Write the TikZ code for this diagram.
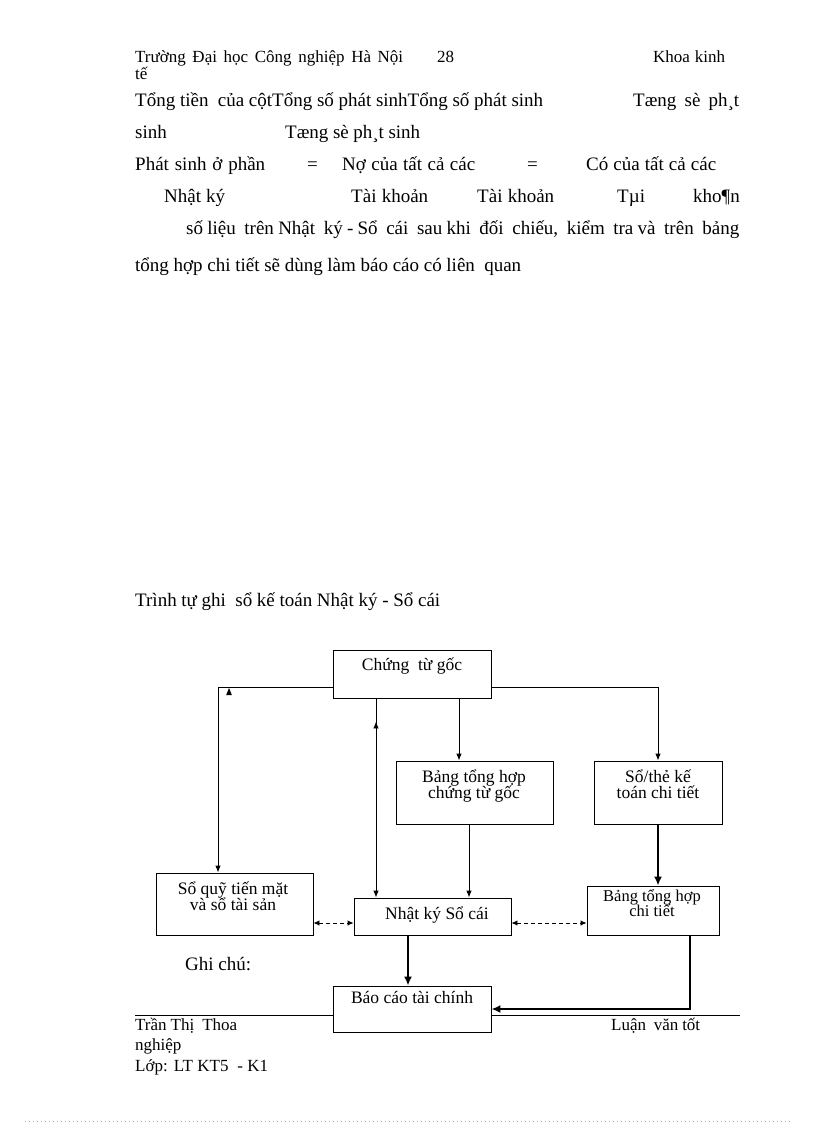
\documentclass[tikz,border=0pt]{standalone}
\usepackage{fontspec}
\setmainfont{Liberation Serif}
\usetikzlibrary{arrows.meta,calc,decorations.markings}
\begin{document}
\begin{tikzpicture}[x=1pt,y=-1pt,
  txt/.style={anchor=base west, inner sep=0pt, font=\fontsize{19}{21}\selectfont},
  hdr/.style={anchor=base west, inner sep=0pt, font=\fontsize{17}{19}\selectfont},
  bxt/.style={anchor=base, inner sep=0pt, font=\fontsize{17.5}{18}\selectfont},
  bxs/.style={anchor=base, inner sep=0pt, font=\fontsize{16.5}{17}\selectfont},
  boxst/.style={draw, line width=0.9pt, fill=white, inner sep=0pt},
  arr/.style={line width=0.9pt, -{Latex[length=7pt,width=5.5pt]}},
  tarr/.style={line width=2.6pt, -{Latex[length=9pt,width=8pt]}},
  darr/.style={line width=0.9pt, dash pattern=on 4pt off 3pt, {Latex[length=6pt,width=5.5pt]}-{Latex[length=6pt,width=5.5pt]}},
  midup/.style={postaction={decorate}, decoration={markings, mark=at position 23pt with {\arrowreversed{Latex[length=7pt,width=5.5pt]}}}}
]
\useasboundingbox[fill=white] (0,0) rectangle (816,1123);

% header
\node[hdr] (h1) at (135,63) {\makebox[268pt][s]{Trường Đại học Công nghiệp Hà Nội}};
\node[hdr] (h2) at (437,63) {28};
\node[hdr] (h3) at (653,63) {\makebox[72pt][s]{Khoa kinh}};
\node[hdr] (h4) at (135,80) {tế};

% body text
\node[txt] (l1a) at (135,107) {\makebox[408pt][s]{Tổng tiền\ \ của cộtTổng số phát sinhTổng số phát sinh}};
\node[txt] (l1b) at (633,107) {\makebox[106pt][s]{Tæng\ \ sè\ \ ph¸t}};
\node[txt] (l2a) at (135,139) {sinh};
\node[txt] (l2b) at (285,139) {\makebox[135pt][s]{Tæng sè ph¸t sinh}};
\node[txt] (l3a) at (135,171) {\makebox[130pt][s]{Phát sinh ở phần}};
\node[txt] (l3b) at (307,171) {=};
\node[txt] (l3c) at (342,171) {\makebox[133pt][s]{Nợ của tất cả các}};
\node[txt] (l3d) at (527,171) {=};
\node[txt] (l3e) at (586,171) {\makebox[130pt][s]{Có của tất cả các}};
\node[txt] (l4a) at (164,203) {\makebox[61pt][s]{Nhật ký}};
\node[txt] (l4b) at (351,203) {\makebox[77pt][s]{Tài khoản}};
\node[txt] (l4c) at (477,203) {\makebox[77pt][s]{Tài khoản}};
\node[txt] (l4d) at (617,203) {Tµi};
\node[txt] (l4e) at (693,203) {kho¶n};
\node[txt] (l5) at (186,235) {\makebox[553pt][s]{số liệu\ \ trên Nhật\ \ ký - Sổ\ \ cái\ \ sau khi\ \ đối\ \ chiếu,\ \ kiểm\ \ tra và\ \ trên\ \ bảng}};
\node[txt] (l6) at (135,271) {\makebox[386pt][s]{tổng hợp chi tiết sẽ dùng làm báo cáo có liên\ \ quan}};

\node[txt] (title) at (135,606) {\makebox[305pt][s]{Trình tự ghi\ \ sổ kế toán Nhật ký - Sổ cái}};
\node[txt] (ghichu) at (185,970) {Ghi chú:};

% footer rule and footer
\draw[line width=0.8pt] (135,1015) -- (740,1015);
\draw[gray!60, line width=0.6pt, dash pattern=on 0.6pt off 3.4pt] (25,1121) -- (792,1121);
\node[hdr] (f1) at (135,1030) {\makebox[102pt][s]{Trần Thị\ \ Thoa}};
\node[hdr] (f2) at (611,1030) {\makebox[89pt][s]{Luận\ \ văn tốt}};
\node[hdr] (f3) at (135,1050) {nghiệp};
\node[hdr] (f4) at (135,1071) {\makebox[133pt][s]{Lớp: LT KT5\ \ - K1}};

% boxes
\node[boxst, minimum width=158pt, minimum height=48pt] (ctg) at (412,674) {};
\node[boxst, minimum width=157pt, minimum height=63pt] (bth) at (474.5,792.5) {};
\node[boxst, minimum width=128pt, minimum height=63pt] (sct) at (658,792.5) {};
\node[boxst, minimum width=157pt, minimum height=62pt] (sq) at (234.5,904) {};
\node[boxst, minimum width=157pt, minimum height=37pt] (nk) at (432.5,916.5) {};
\node[boxst, minimum width=132pt, minimum height=49pt] (btct) at (653,910.5) {};
\node[boxst, minimum width=158pt, minimum height=46pt] (bc) at (412,1009) {};

% box texts
\node[bxt] (ctgT) at (412,670) {Chứng\ \ từ gốc};
\node[bxt] (bthT1) at (474,782) {Bảng tổng hợp};
\node[bxt] (bthT2) at (474,798) {chứng từ gốc};
\node[bxt] (sctT1) at (658,782) {Sổ/thẻ kế};
\node[bxt] (sctT2) at (658,798) {toán chi tiết};
\node[bxt] (sqT1) at (233,894) {Sổ quỹ tiến mặt};
\node[bxt] (sqT2) at (233,910) {và sổ tài sản};
\node[bxt] (nkT) at (437,919) {Nhật ký Sổ cái};
\node[bxs] (btctT1) at (652,901) {Bảng tổng hợp};
\node[bxs] (btctT2) at (652,916) {chi tiết};
\node[bxt] (bcT) at (412,1003) {Báo cáo tài chính};

% helper coordinates
\coordinate (xl) at (218,0);
\coordinate (xm) at (376,0);
\coordinate (xb) at (459,0);
\coordinate (xc) at (469,0);
\coordinate (xr) at (658,0);
\coordinate (xn) at (408,0);
\coordinate (xt) at (690,0);
\coordinate (yt) at (0,687);
\coordinate (yd) at (0,923);

% connectors
\draw[arr] (ctg.west |- yt) -| (sq.north -| xl);
\fill (229,688) -- (226.2,695) -- (231.8,695) -- cycle;
\draw[arr] (ctg.east |- yt) -| (sct.north -| xr);
\draw[arr, midup] (ctg.south -| xm) -- (nk.north -| xm);
\draw[arr] (ctg.south -| xb) -- (bth.north -| xb);
\draw[arr] (bth.south -| xc) -- (nk.north -| xc);
\draw[tarr] (sct.south) -- (btct.north -| sct.south);
\draw[darr] (sq.east |- yd) -- (nk.west |- yd);
\draw[darr] (nk.east |- yd) -- (btct.west |- yd);
\draw[tarr] (nk.south -| xn) -- (bc.north -| xn);
\draw[tarr] (btct.south -| xt) |- (bc.east);
\end{tikzpicture}
\end{document}
